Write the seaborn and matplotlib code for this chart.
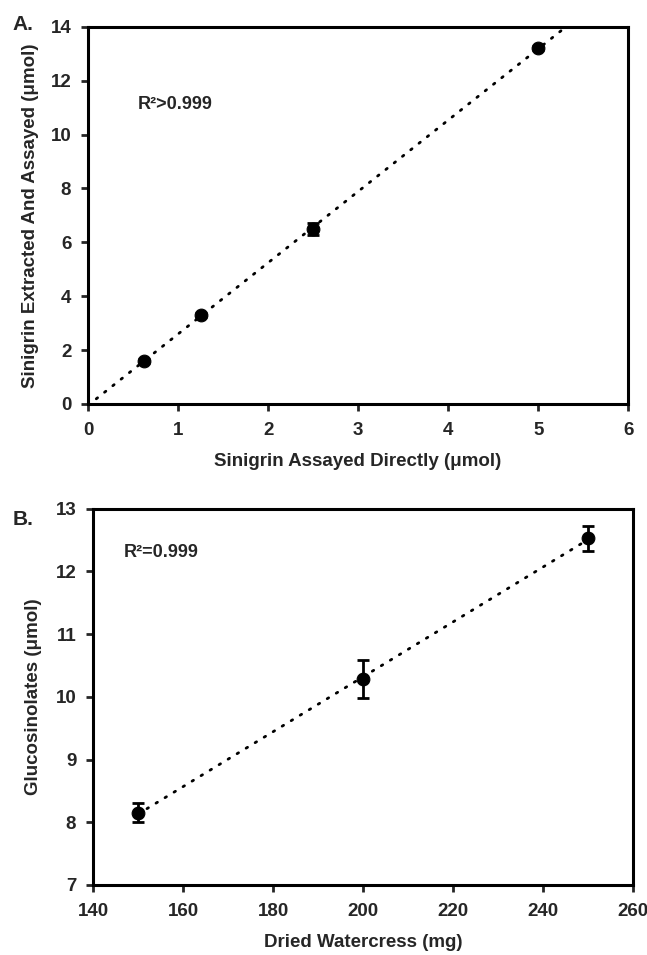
import matplotlib
matplotlib.use('Agg')
import matplotlib.pyplot as plt
import numpy as np
import pandas as pd
import seaborn as sns

# Panel A data
a_direct = [0.625, 1.25, 2.5, 5.0]
a_extracted = [1.6, 3.3, 6.5, 13.2]
a_err = [0.08, 0.08, 0.22, 0.08]

# Panel B data
b_mass = [150, 200, 250]
b_gluc = [8.15, 10.28, 12.53]
b_err = [0.15, 0.3, 0.2]

sns.set_style('white')
plt.rcParams['font.family'] = ['Liberation Sans Narrow', 'Liberation Sans', 'DejaVu Sans']
plt.rcParams['font.weight'] = 'bold'

fig = plt.figure(figsize=(6.47, 9.55), dpi=100)
ax1 = fig.add_axes([0.136, 0.577, 0.835, 0.395])
ax2 = fig.add_axes([0.1437, 0.0733, 0.835, 0.394])


def style_axis(ax):
    for s in ax.spines.values():
        s.set_linewidth(2.2)
        s.set_color('black')
    ax.tick_params(direction='out', length=5, width=2, labelsize=13.5, bottom=True, left=True,
                   right=False, top=False)
    ax.tick_params(axis='x', pad=8)
    ax.tick_params(axis='y', pad=7)
    for lab in ax.get_xticklabels() + ax.get_yticklabels():
        lab.set_fontweight('bold')


# Panel A
df_a = pd.DataFrame({'x': a_direct, 'y': a_extracted})
slope, icpt = np.polyfit(a_direct, a_extracted, 1)
xs = np.array([0.0, 6.0])
ax1.plot(xs, slope * xs + icpt, color='black', lw=2, linestyle=(0, (0.6, 3.2)),
         dash_capstyle='round')
ax1.errorbar(a_direct, a_extracted, yerr=a_err, fmt='none', ecolor='black', elinewidth=2,
             capsize=4, capthick=2)
sns.scatterplot(data=df_a, x='x', y='y', ax=ax1, color='black', s=85, edgecolor='black', zorder=5)
ax1.set_xlim(0, 6)
ax1.set_ylim(0, 14)
ax1.set_xticks(range(0, 7))
ax1.set_yticks(range(0, 15, 2))
ax1.set_xlabel('Sinigrin Assayed Directly (μmol)', fontsize=13.5, fontweight='bold', labelpad=10)
ax1.set_ylabel('Sinigrin Extracted And Assayed (μmol)', fontsize=13.5, fontweight='bold', labelpad=8)
ax1.text(0.55, 11.1, 'R²>0.999', fontsize=13, fontweight='bold', va='center')
style_axis(ax1)

# Panel B
df_b = pd.DataFrame({'x': b_mass, 'y': b_gluc})
slope_b, icpt_b = np.polyfit(b_mass, b_gluc, 1)
xb = np.array([150.0, 250.0])
ax2.plot(xb, slope_b * xb + icpt_b, color='black', lw=2, linestyle=(0, (0.6, 3.2)),
         dash_capstyle='round')
ax2.errorbar(b_mass, b_gluc, yerr=b_err, fmt='none', ecolor='black', elinewidth=2,
             capsize=4, capthick=2)
sns.scatterplot(data=df_b, x='x', y='y', ax=ax2, color='black', s=85, edgecolor='black', zorder=5)
ax2.set_xlim(140, 260)
ax2.set_ylim(7, 13)
ax2.set_xticks(range(140, 261, 20))
ax2.set_yticks(range(7, 14))
ax2.set_xlabel('Dried Watercress (mg)', fontsize=13.5, fontweight='bold', labelpad=10)
ax2.set_ylabel('Glucosinolates (μmol)', fontsize=13.5, fontweight='bold', labelpad=10)
ax2.text(146.9, 12.3, 'R²=0.999', fontsize=13, fontweight='bold', va='center')
style_axis(ax2)

fig.text(0.02, 0.974, 'A.', fontsize=15, fontweight='bold', va='center')
fig.text(0.02, 0.4555, 'B.', fontsize=15, fontweight='bold', va='center')

fig.savefig('out.png', dpi=100)
